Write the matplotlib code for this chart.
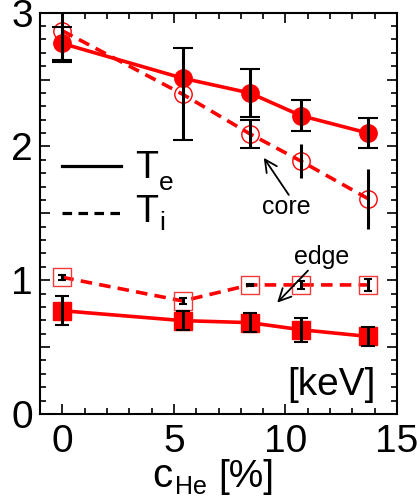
import numpy as np
import matplotlib
matplotlib.use("Agg")
import matplotlib.pyplot as plt
from matplotlib.ticker import MultipleLocator, FuncFormatter

plt.rcParams['font.family'] = ['Liberation Sans', 'DejaVu Sans']

# Helium concentration [%]
c_he = [0.0, 5.4, 8.4, 10.7, 13.7]

# Core temperatures [keV]
te_core = [2.77, 2.51, 2.40, 2.23, 2.10]
te_core_err = [0.12, np.nan, 0.18, 0.115, 0.11]
ti_core = [2.865, 2.39, 2.095, 1.89, 1.61]
ti_core_err = [0.23, 0.345, 0.105, 0.127, 0.225]

# Edge temperatures [keV]
te_edge = [0.772, 0.698, 0.683, 0.63, 0.58]
te_edge_err = [0.108, 0.07, 0.07, 0.09, 0.07]
ti_edge = [1.022, 0.845, 0.965, 0.965, 0.965]
ti_edge_err = [0.018, 0.025, 0.006, 0.03, 0.045]

# cap sizes of the ion-temperature error bars (core)
ti_core_caps = [7, 7, 7, 0, 0]

RED = '#ff0000'
DASH = (0, (3.2, 2.0))

fig = plt.figure(figsize=(4.2, 5), dpi=100)
ax = fig.add_axes([40 / 420, 1 - 414 / 500, 357 / 420, 401.3 / 500])

ax.plot(c_he, ti_core, color=RED, lw=2.6, ls=DASH, marker='o', ms=12.5,
        mfc='none', mec=RED, mew=1.0, zorder=3)
ax.plot(c_he, te_core, color=RED, lw=2.6, ls='-', marker='o', ms=12.5,
        mfc=RED, mec=RED, zorder=3)
ax.plot(c_he, ti_edge, color=RED, lw=2.6, ls=DASH, marker='s', ms=13,
        mfc='none', mec='#f03a3a', mew=1.0, zorder=3)
ax.plot(c_he, te_edge, color=RED, lw=2.6, ls='-', marker='s', ms=13,
        mfc=RED, mec=RED, zorder=3)


def bars(xs, ys, errs, caps):
    for x, y, e, cs in zip(xs, ys, errs, caps):
        if np.isnan(e):
            continue
        ax.errorbar(x, y, yerr=e, fmt='none', ecolor='k', elinewidth=2.2,
                    capsize=cs, capthick=1.5, zorder=5)


bars(c_he, te_core, te_core_err, [7] * 5)
bars(c_he, ti_core, ti_core_err, ti_core_caps)
bars(c_he, te_edge, te_edge_err, [5] * 5)
bars(c_he, ti_edge, ti_edge_err, [3] * 5)

ax.set_xlim(-1, 15)
ax.set_ylim(0, 3)
ax.xaxis.set_major_locator(MultipleLocator(5))
ax.xaxis.set_minor_locator(MultipleLocator(1))
ax.yaxis.set_major_locator(MultipleLocator(0.5))
ax.yaxis.set_minor_locator(MultipleLocator(0.1))
ax.yaxis.set_major_formatter(FuncFormatter(
    lambda v, p: f"{int(round(v))}" if abs(v - round(v)) < 1e-6 else ""))
ax.tick_params(which='both', direction='in', top=True, right=True,
               width=1.2, labelsize=28, colors='k')
ax.tick_params(which='major', length=7)
ax.tick_params(which='minor', length=4)
ax.tick_params(axis='x', pad=7)
ax.tick_params(axis='y', pad=5)
for s in ax.spines.values():
    s.set_linewidth(1.5)

# line-style key
ax.plot([-0.03, 2.65], [1.855, 1.855], color='k', lw=2.3, ls='-')
ax.plot([-0.03, 2.65], [1.506, 1.506], color='k', lw=2.3, ls=(0, (3, 2)))
ax.text(3.25, 1.763, 'T', fontsize=27, va='baseline', ha='left')
ax.text(4.35, 1.675, 'e', fontsize=19, va='baseline', ha='left')
ax.text(3.25, 1.438, 'T', fontsize=27, va='baseline', ha='left')
ax.text(4.35, 1.376, 'i', fontsize=19, va='baseline', ha='left')

# annotations
ax.annotate('', xy=(9.03, 1.915), xytext=(10.15, 1.638),
            arrowprops=dict(arrowstyle='->', lw=1.3, color='k',
                            mutation_scale=22, shrinkA=0, shrinkB=0))
ax.text(10.06, 1.545, 'core', fontsize=18, ha='center', va='center')
ax.annotate('', xy=(9.63, 0.8325), xytext=(11.01, 1.072),
            arrowprops=dict(arrowstyle='->', lw=1.3, color='k',
                            mutation_scale=22, shrinkA=0, shrinkB=0))
ax.text(11.64, 1.174, 'edge', fontsize=18, ha='center', va='center')
ax.text(14.05, 0.22, '[keV]', fontsize=28, ha='right', va='center')

# x-axis label with subscript
fig.text(152 / 420, 1 - 487 / 500, 'c', fontsize=29, ha='left', va='baseline')
fig.text(175 / 420, 1 - 494 / 500, 'He', fontsize=18, ha='left', va='baseline')
fig.text(218 / 420, 1 - 487 / 500, '[%]', fontsize=28, ha='left', va='baseline')

fig.savefig('out.png', dpi=100)
